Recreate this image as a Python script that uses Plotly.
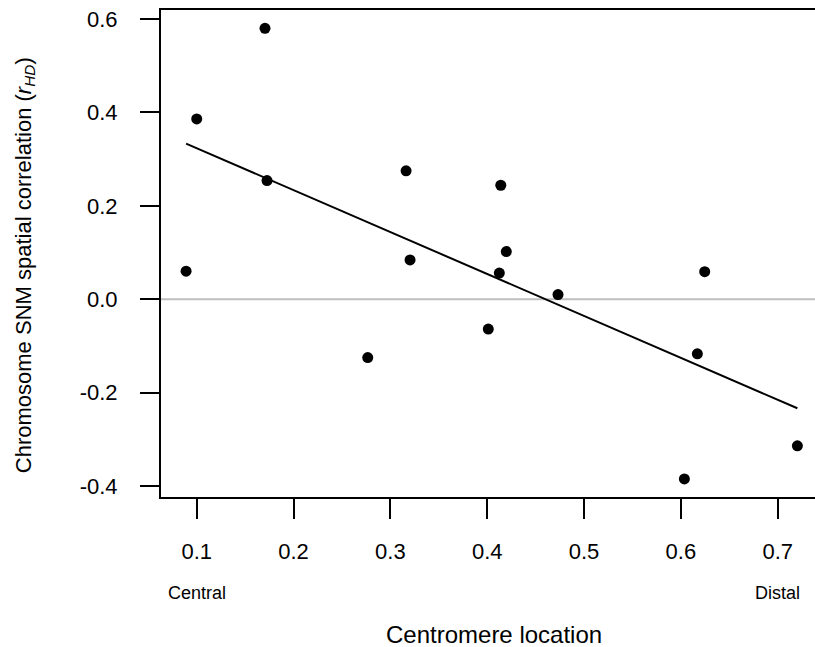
import numpy as np
import plotly.graph_objects as go

# Data
centromere_location = [0.089, 0.100, 0.1705, 0.1726, 0.2766, 0.3162, 0.3203, 0.4011,
                       0.4125, 0.414, 0.4197, 0.4731, 0.6036, 0.617, 0.6246, 0.7203]
snm_correlation = [0.060, 0.386, 0.580, 0.254, -0.125, 0.275, 0.084, -0.064,
                   0.056, 0.244, 0.102, 0.010, -0.385, -0.117, 0.059, -0.314]
x_ticks = [0.1, 0.2, 0.3, 0.4, 0.5, 0.6, 0.7]
y_ticks = [-0.4, -0.2, 0.0, 0.2, 0.4, 0.6]
end_labels = ["Central", "Distal"]

x = np.array(centromere_location)
y = np.array(snm_correlation)
slope, intercept = np.polyfit(x, y, 1)
fit_x = np.array([x.min(), x.max()])
fit_y = intercept + slope * fit_x

FONT = "Liberation Sans, Arial, Helvetica, sans-serif"

fig = go.Figure()
fig.add_hline(y=0, line_color="#bebebe", line_width=2, layer="below")
fig.add_trace(go.Scatter(x=fit_x, y=fit_y, mode="lines",
                         line=dict(color="black", width=2), showlegend=False))
fig.add_trace(go.Scatter(x=x, y=y, mode="markers",
                         marker=dict(color="black", size=11), showlegend=False))

for xv, lab in zip([x_ticks[0], x_ticks[-1]], end_labels):
    fig.add_annotation(x=xv, y=0, xref="x", yref="paper", yanchor="middle",
                       yshift=-96, text=lab, showarrow=False,
                       font=dict(size=18, color="black", family=FONT))

# axis titles as annotations (positioned like the reference)
fig.add_annotation(x=0, y=0.476, xref="paper", yref="paper",
                   xanchor="center", yanchor="middle", xshift=-136,
                   textangle=-90, showarrow=False,
                   text="Chromosome SNM spatial correlation (<i>r</i><sub><i>HD</i></sub>)",
                   font=dict(size=22, color="black", family=FONT))
fig.add_annotation(x=0.509, y=0, xref="paper", yref="paper",
                   xanchor="center", yanchor="middle", yshift=-137,
                   showarrow=False, text="Centromere location",
                   font=dict(size=24, color="black", family=FONT))

fig.update_layout(
    width=815, height=647,
    margin=dict(l=161, r=0, t=10, b=150),
    paper_bgcolor="white", plot_bgcolor="white",
    font=dict(family=FONT, color="black", size=22),
    xaxis=dict(
        range=[0.0631, 0.7385], tickvals=x_ticks,
        ticktext=[f"{v:.1f}" for v in x_ticks],
        showgrid=False, zeroline=False,
        showline=True, linecolor="black", linewidth=2, mirror=True,
        ticks="outside", ticklen=20, tickwidth=2, tickcolor="black",
        ticklabelstandoff=14, tickfont=dict(size=22),
    ),
    yaxis=dict(
        range=[-0.4236, 0.6193], tickvals=y_ticks,
        ticktext=[f"{v:.1f}" for v in y_ticks],
        showgrid=False, zeroline=False,
        showline=True, linecolor="black", linewidth=2, mirror=False,
        ticks="outside", ticklen=19, tickwidth=2, tickcolor="black",
        ticklabelstandoff=18, tickfont=dict(size=22),
    ),
)

fig.write_html("out.html")
